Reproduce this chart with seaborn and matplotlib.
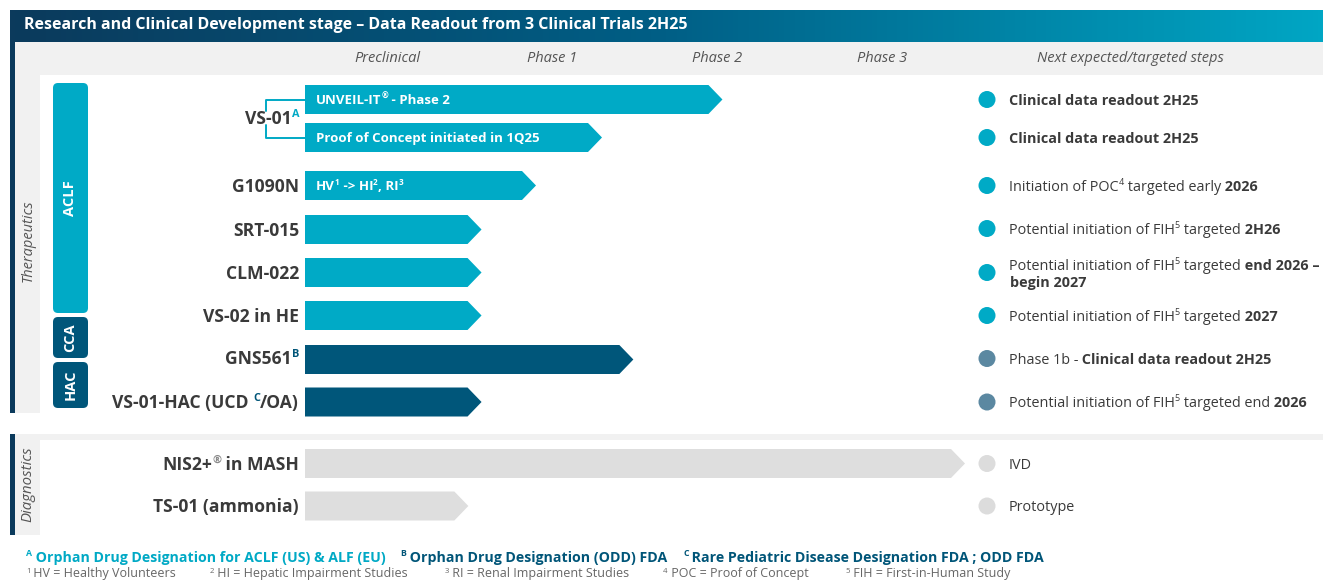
import matplotlib
matplotlib.use('Agg')
import matplotlib.pyplot as plt
import seaborn as sns
import numpy as np
import pandas as pd
from matplotlib.patches import Polygon, FancyBboxPatch, Rectangle
from matplotlib.colors import LinearSegmentedColormap

# ---- data ----
title = 'Research and Clinical Development stage \u2013 Data Readout from 3 Clinical Trials 2H25'
phases = ['Preclinical', 'Phase 1', 'Phase 2', 'Phase 3']
next_header = 'Next expected/targeted steps'

bar_names = ['UNVEIL-IT', 'Proof of Concept', 'G1090N', 'SRT-015', 'CLM-022',
             'VS-02 in HE', 'GNS561', 'VS-01-HAC', 'NIS2+ in MASH', 'TS-01 (ammonia)']
bar_stage = [2.53, 1.80, 1.40, 1.07, 1.07, 1.07, 1.99, 1.07, 4.00, 0.99]
bar_group = ['aclf', 'aclf', 'aclf', 'aclf', 'aclf', 'aclf', 'onco', 'onco', 'dx', 'dx']
# bar captions: list of (text, superscript)
bar_text = [[('UNVEIL-IT', False), ('\u00ae', True), (' - Phase 2', False)],
            [('Proof of Concept initiated in 1Q25', False)],
            [('HV', False), ('1', True), (' -> HI', False), ('2', True), (', RI', False), ('3', True)],
            [], [], [], [], [], [], []]

categories = ['ACLF', 'CCA', 'HAC']
sections = ['Therapeutics', 'Diagnostics']

# product labels: (text, superscript, superscript colour key, tail)
labels = [('VS-01', 'A', 'teal', ''), ('G1090N', '', '', ''), ('SRT-015', '', '', ''),
          ('CLM-022', '', '', ''), ('VS-02 in HE', '', '', ''), ('GNS561', 'B', 'navy', ''),
          ('VS-01-HAC (UCD ', 'C', 'navy', '/OA)'), ('NIS2+', '\u00ae', 'grey', ' in MASH'),
          ('TS-01 (ammonia)', '', '', '')]

# next steps: list of (text, bold, superscript)
next_steps = [
    [('Clinical data readout 2H25', True, False)],
    [('Clinical data readout 2H25', True, False)],
    [('Initiation of POC', False, False), ('4', False, True), (' targeted early', False, False), (' 2026', True, False)],
    [('Potential initiation of FIH', False, False), ('5', False, True), (' targeted', False, False), (' 2H26', True, False)],
    [('Potential initiation of FIH', False, False), ('5', False, True), (' targeted', False, False), (' end 2026 \u2013', True, False)],
    [('Potential initiation of FIH', False, False), ('5', False, True), (' targeted', False, False), (' 2027', True, False)],
    [('Phase 1b -', False, False), (' Clinical data readout 2H25', True, False)],
    [('Potential initiation of FIH', False, False), ('5', False, True), (' targeted end', False, False), (' 2026', True, False)],
    [('IVD', False, False)],
    [('Prototype', False, False)],
]
step_status = ['aclf', 'aclf', 'aclf', 'aclf', 'aclf', 'aclf', 'onco', 'onco', 'dx', 'dx']

notes_top = [('A', 'Orphan Drug Designation for ACLF (US) & ALF (EU)', 'teal'),
             ('B', 'Orphan Drug Designation (ODD) FDA', 'navy'),
             ('C', 'Rare Pediatric Disease Designation FDA ; ODD FDA', 'navy')]
notes_bottom = [('1', 'HV = Healthy Volunteers'), ('2', 'HI = Hepatic Impairment Studies'),
                ('3', 'RI = Renal Impairment Studies'), ('4', 'POC = Proof of Concept'),
                ('5', 'FIH = First-in-Human Study')]

# ---- layout (pixels) ----
W, H = 1323, 582
row_y = [99.5, 137.5, 185.5, 229.5, 272.5, 315.5, 359.5, 402, 463.5, 506]
label_y = [118, 185.5, 229.5, 272.5, 315.5, 358, 402, 463.5, 506]
step_y = [99.5, 137.5, 185.5, 228.5, 265, 315.5, 358.5, 402, 463.5, 506]
dot_y = [99.5, 137.5, 185.5, 228.5, 272.5, 315.5, 358.5, 402, 463.5, 506]
phase_x = [387, 552, 717, 882]
cat_span = [(83, 313), (317, 358), (362, 408)]
notes_top_x = [26, 400, 683]
notes_bottom_x = [26, 210, 445, 663, 845]

colors = {'teal': '#00a9c5', 'navy': '#005578', 'grey': '#8a8a8a', 'dark': '#3a3a3a'}
bar_colors = {'aclf': '#00aac6', 'onco': '#00567a', 'dx': '#dedede'}
dot_colors = {'aclf': '#00aac6', 'onco': '#5b88a1', 'dx': '#dcdcdc'}

sns.set_style('white')
plt.rcParams['font.family'] = ['Open Sans', 'DejaVu Sans']

fig = plt.figure(figsize=(W / 100, H / 100), dpi=100)

# pipeline bar axes: x in phase units, y in pixels (drawn underneath the text layer)
ax = fig.add_axes([305 / W, 0, 660 / W, 1])
ax.set_zorder(0)

# full-figure layer in pixel coordinates for frames and text
bg = fig.add_axes([0, 0, 1, 1])
bg.set_zorder(1)
bg.patch.set_visible(False)
renderer = fig.canvas.get_renderer()


def rich(x, y, parts, size, ha='left'):
    """draw a run of text pieces on one baseline; y is the visual centre"""
    base = y + 0.5 * size
    cur = x
    arts = []
    for s, o in parts:
        sup = o.get('sup', False)
        sz = size * 0.62 if sup else size
        t = bg.text(cur, base - (0.55 * size if sup else 0), s, fontsize=sz,
                    color=o.get('color', '#3a3a3a'), fontweight=o.get('weight', 'normal'),
                    style=o.get('style', 'normal'), va='baseline', ha='left', zorder=4)
        cur += t.get_window_extent(renderer).width + o.get('pad', 0)
        arts.append(t)
    if ha == 'right':
        shift = cur - x
        for t in arts:
            t.set_x(t.get_position()[0] - shift)
    return cur


# title bar with gradient
grad = LinearSegmentedColormap.from_list('g', ['#0b3a5c', '#005f86', '#00a6c4'])
bg.imshow(np.linspace(0, 1, 256)[None, :], cmap=grad, aspect='auto',
          extent=(10, W, 42, 10), zorder=1)
bg.set_xlim(0, W)
bg.set_ylim(H, 0)
bg.axis('off')
bg.text(24, 25, title, color='white', fontsize=11.5, fontweight='bold', va='center', zorder=3)

# section frames
bg.add_patch(Rectangle((15, 42), W - 15, 33, color='#f1f1f1', lw=0, zorder=0))
bg.add_patch(Rectangle((15, 42), 25, 371, color='#f1f1f1', lw=0, zorder=0))
bg.add_patch(Rectangle((10, 42), 5, 371, color='#0b3a5c', lw=0, zorder=2))
bg.add_patch(Rectangle((15, 434), W - 15, 6, color='#f1f1f1', lw=0, zorder=0))
bg.add_patch(Rectangle((15, 434), 25, 101, color='#f1f1f1', lw=0, zorder=0))
bg.add_patch(Rectangle((10, 434), 5, 101, color='#0b3a5c', lw=0, zorder=2))
bg.text(28, 241, sections[0], rotation=90, style='italic', color='#555555', fontsize=10.5,
        ha='center', va='center')
bg.text(28, 484, sections[1], rotation=90, style='italic', color='#555555', fontsize=10.8,
        ha='center', va='center')

# column headers
for px, name in zip(phase_x, phases):
    bg.text(px, 59, name, style='italic', color='#555555', fontsize=10.5, ha='center', va='center')
bg.text(1130, 59, next_header, style='italic', color='#555555', fontsize=10.5, ha='center', va='center')

# indication boxes
for (y0, y1), name, key in zip(cat_span, categories, ['aclf', 'onco', 'onco']):
    bg.add_patch(FancyBboxPatch((53, y0), 35, y1 - y0, boxstyle='round,pad=0,rounding_size=5',
                                color=bar_colors[key], lw=0))
    bg.text(70.5, (y0 + y1) / 2, name, rotation=90, color='white', fontweight='bold',
            fontsize=10.5, ha='center', va='center')

# VS-01 bracket
bg.plot([305, 266, 266], [99.5, 99.5, 111], color=colors['teal'], lw=1.4)
bg.plot([266, 266, 305], [125, 137.5, 137.5], color=colors['teal'], lw=1.4)

# product labels
for (txt, sup, skey, tail), y in zip(labels, label_y):
    parts = [(txt, {'weight': 'bold', 'color': colors['dark']})]
    if sup:
        parts.append((sup, {'sup': True, 'weight': 'bold', 'color': colors[skey]}))
    if tail:
        parts.append((tail, {'weight': 'bold', 'color': colors['dark']}))
    rich(299, y, parts, 12.6, ha='right')

# pipeline bars
ax.set_xlim(0, 4)
ax.set_ylim(H, 0)
ax.axis('off')
tip = 14 / 165
bh = 29
for stage, y, grp, txt in zip(bar_stage, row_y, bar_group, bar_text):
    pts = [(0, y - bh / 2), (stage - tip, y - bh / 2), (stage, y), (stage - tip, y + bh / 2), (0, y + bh / 2)]
    ax.add_patch(Polygon(pts, closed=True, color=bar_colors[grp], lw=0, clip_on=False))
    if txt:
        rich(316, y, [(s, {'weight': 'bold', 'color': 'white', 'sup': sp}) for s, sp in txt], 9.5)

# status dots
dots = pd.DataFrame({'x': [987] * len(dot_y), 'y': dot_y, 'status': step_status})
sns.scatterplot(data=dots, x='x', y='y', hue='status', palette=dot_colors, s=150,
                edgecolor='none', legend=False, ax=bg, zorder=3)
bg.set_xlim(0, W)
bg.set_ylim(H, 0)
bg.axis('off')

# next steps text
for parts, y in zip(next_steps, step_y):
    rp = [(s, {'weight': 'bold' if b else 'normal', 'sup': sp, 'color': '#3a3a3a'}) for s, b, sp in parts]
    rich(1009, y, rp, 10.4)
rich(1010, 282, [('begin 2027', {'weight': 'bold'})], 10.4)

# footnotes
for x, (sup, txt, key) in zip(notes_top_x, notes_top):
    rich(x, 557, [(sup, {'sup': True, 'weight': 'bold', 'color': colors[key]}),
                  (' ' + txt, {'weight': 'bold', 'color': colors[key]})], 10.2)
for x, (sup, txt) in zip(notes_bottom_x, notes_bottom):
    rich(x, 573, [(sup, {'sup': True, 'color': '#666666'}),
                  (' ' + txt, {'color': '#666666'})], 9.0)

fig.savefig('out.png', dpi=100)
